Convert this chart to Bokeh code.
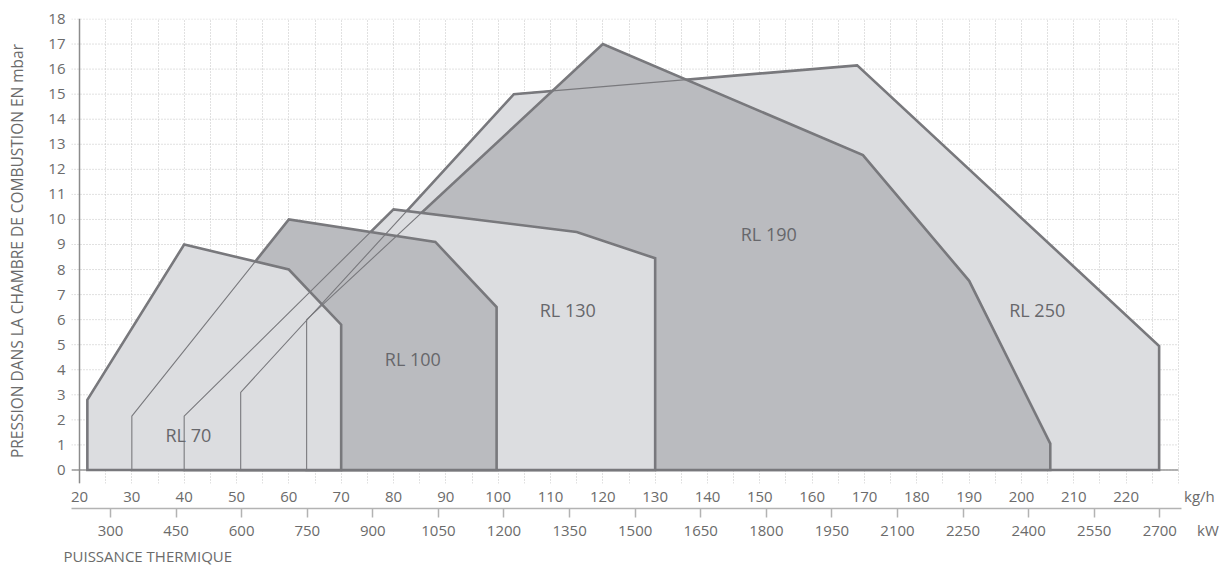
from bokeh.plotting import figure
from bokeh.models import Range1d, LinearAxis, FixedTicker, Span, Title
from bokeh.embed import file_html
from bokeh.resources import INLINE
from bokeh.core.properties import value

# ---------------- data ----------------
kgh_ticks = [20, 30, 40, 50, 60, 70, 80, 90, 100, 110, 120, 130, 140, 150, 160,
             170, 180, 190, 200, 210, 220]
kgh_grid_half = [25, 35, 45, 55, 65, 75, 85, 95, 105, 115, 125, 135, 145, 155,
                 165, 175, 185, 195, 205, 215, 225, 230]
mbar_ticks = [0, 1, 2, 3, 4, 5, 6, 7, 8, 9, 10, 11, 12, 13, 14, 15, 16, 17, 18]
kw_ticks = [300, 450, 600, 750, 900, 1050, 1200, 1350, 1500, 1650, 1800, 1950,
            2100, 2250, 2400, 2550, 2700]
kgh_unit = "kg/h"
kw_unit = "kW"

rl250_x = [50.8, 50.8, 103.0, 168.6, 226.3, 226.3]
rl250_y = [0.0, 3.1, 15.0, 16.15, 4.95, 0.0]
rl190_x = [63.4, 63.4, 120.0, 169.7, 190.0, 205.5, 205.5]
rl190_y = [0.0, 6.0, 17.0, 12.57, 7.55, 1.05, 0.0]
rl130_x = [40.0, 40.0, 80.0, 115.0, 130.0, 130.0]
rl130_y = [0.0, 2.15, 10.4, 9.5, 8.45, 0.0]
rl100_x = [30.0, 30.0, 60.0, 88.0, 99.7, 99.7]
rl100_y = [0.0, 2.15, 10.0, 9.1, 6.5, 0.0]
rl70_x = [21.5, 21.5, 40.0, 60.0, 70.0, 70.0]
rl70_y = [0.0, 2.8, 9.0, 8.0, 5.8, 0.0]

label_text = ["RL 70", "RL 100", "RL 130", "RL 190", "RL 250"]
label_x = [40.8, 83.7, 113.3, 151.7, 203.0]
label_y = [1.4, 4.43, 6.4, 9.42, 6.4]

# ---------------- layout / style ----------------
FONT = "Open Sans"
TXT = "#6b6b6b"
LIGHT = "#dcdde0"
DARK = "#babbbf"
EDGE = "#79797d"
GRID = "#c2c2c2"
AXIS_GREY = "#b3b3b3"

X_LO, X_HI = 18.47, 238.6          # kg/h range across the frame
KW_LO, KW_HI = 210.8, 2845.7       # matching kW range
KW_LINE_END = 2749.6               # where the kW axis line stops
KGH_UNIT_AT = 234                  # position of the "kg/h" unit text
KW_UNIT_AT = 2810                  # position of the "kW" unit text
GRID_END = kgh_grid_half[-1]

p = figure(width=1223, height=566,
           x_range=Range1d(X_LO, X_HI), y_range=Range1d(-0.54, 18.02),
           output_backend="svg", toolbar_location=None,
           min_border_left=71, min_border_right=0, min_border_top=18,
           min_border_bottom=0)
p.outline_line_color = None
p.background_fill_color = "white"

# vertical dotted grid (every 5 kg/h up to 230)
g = p.xgrid[0]
g.ticker = FixedTicker(ticks=kgh_ticks, minor_ticks=kgh_grid_half)
g.grid_line_color = GRID
g.grid_line_dash = "1 2"
g.minor_grid_line_color = GRID
g.minor_grid_line_dash = "1 2"
p.ygrid[0].visible = False

# horizontal dotted grid, stopping at the last kg/h grid line
n = len(mbar_ticks)
p.segment(x0=[X_LO] * n, x1=[GRID_END] * n, y0=mbar_ticks, y1=mbar_ticks,
          line_color=GRID, line_dash="1 2", line_width=1, level="underlay")
# zero line and y axis line
p.segment(x0=[X_LO], x1=[GRID_END], y0=[mbar_ticks[0]], y1=[mbar_ticks[0]],
          line_color="#9a9a9a", line_width=1.5, level="underlay")
p.add_layout(Span(location=kgh_ticks[0], dimension="height",
                  line_color="#8c8c8c", line_width=1.5, level="underlay"))

# kg/h axis (labels only)
xa = p.xaxis[0]
xa.ticker = FixedTicker(ticks=kgh_ticks + [KGH_UNIT_AT])
xa.major_label_overrides = {KGH_UNIT_AT: kgh_unit}
xa.axis_line_color = None
xa.major_tick_line_color = None
xa.minor_tick_line_color = None
xa.major_tick_out = 0
xa.major_tick_in = 0
xa.minor_tick_out = 0
xa.minor_tick_in = 0
xa.major_label_standoff = 2
xa.major_label_text_font = FONT
xa.major_label_text_font_size = "15px"
xa.major_label_text_color = TXT

# y axis
ya = p.yaxis[0]
ya.ticker = FixedTicker(ticks=mbar_ticks)
ya.axis_line_color = None
ya.major_tick_line_color = None
ya.minor_tick_line_color = None
ya.major_tick_out = 0
ya.major_tick_in = 0
ya.minor_tick_out = 0
ya.minor_tick_in = 0
ya.major_label_standoff = 6
ya.major_label_text_font = FONT
ya.major_label_text_font_size = "15px"
ya.major_label_text_color = TXT
ya.axis_label = "PRESSION DANS LA CHAMBRE DE COMBUSTION EN mbar"
ya.axis_label_text_font = FONT
ya.axis_label_text_font_size = "15.5px"
ya.axis_label_text_font_style = "normal"
ya.axis_label_text_color = TXT
ya.axis_label_standoff = 17

# kW axis: line + tick marks (tick marks drawn as minor ticks, no labels)
p.extra_x_ranges = {"kw": Range1d(KW_LO, KW_HI)}
kw_line = LinearAxis(x_range_name="kw",
                     ticker=FixedTicker(ticks=[], minor_ticks=kw_ticks),
                     bounds=(KW_LO, KW_LINE_END))
kw_line.axis_line_color = AXIS_GREY
kw_line.axis_line_width = 1.5
kw_line.major_tick_line_color = None
kw_line.major_tick_out = 9
kw_line.major_tick_in = 0
kw_line.minor_tick_line_color = AXIS_GREY
kw_line.minor_tick_line_width = 1.5
kw_line.minor_tick_out = 9
kw_line.minor_tick_in = 0
kw_line.major_label_standoff = 0
p.add_layout(kw_line, "below")

# kW axis: labels
kw_lab = LinearAxis(x_range_name="kw",
                    ticker=FixedTicker(ticks=kw_ticks + [KW_UNIT_AT]))
kw_lab.major_label_overrides = {KW_UNIT_AT: kw_unit}
kw_lab.axis_line_color = None
kw_lab.major_tick_line_color = None
kw_lab.minor_tick_line_color = None
kw_lab.major_tick_out = 0
kw_lab.major_tick_in = 0
kw_lab.minor_tick_out = 0
kw_lab.minor_tick_in = 0
kw_lab.major_label_standoff = 2
kw_lab.major_label_text_font = FONT
kw_lab.major_label_text_font_size = "15px"
kw_lab.major_label_text_color = TXT
p.add_layout(kw_lab, "below")

p.add_layout(Title(text="PUISSANCE THERMIQUE", align="left", offset=-8,
                   standoff=2, text_font=FONT, text_font_size="15px",
                   text_font_style="normal", text_color=TXT), "below")

# polygons: back to front
shapes = [(rl250_x, rl250_y, LIGHT), (rl190_x, rl190_y, DARK),
          (rl130_x, rl130_y, LIGHT), (rl100_x, rl100_y, DARK),
          (rl70_x, rl70_y, LIGHT)]
for xs, ys, col in shapes:
    p.patch(xs, ys, fill_color=col, line_color=EDGE, line_width=2.6,
            line_join="miter")
# hidden edges shown as thin lines on top
for xs, ys, col in shapes:
    p.patch(xs, ys, fill_color=None, line_color=EDGE, line_width=1.1)

p.text(x=label_x, y=label_y, text=label_text, text_font=value(FONT),
       text_font_size="18px", text_color="#67676b", text_align="center",
       text_baseline="middle")

open("out.html", "w").write(file_html(p, INLINE))
